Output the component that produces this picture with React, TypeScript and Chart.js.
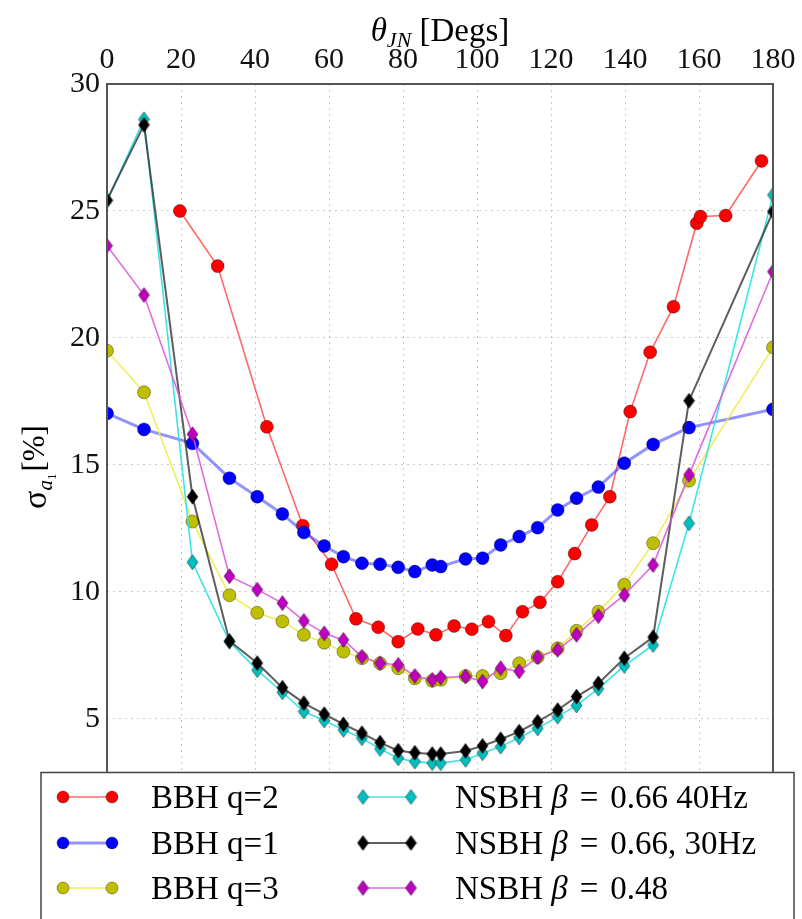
import React, { useEffect, useRef } from 'react';
import { Chart, registerables } from 'chart.js';

Chart.register(...registerables);

// ---------- data ----------
const thetaGrid = [0, 10, 23.1, 33.1, 40.6, 47.4, 53.2, 58.7, 63.9, 68.9, 73.8, 78.7, 83.2, 87.9, 90.2, 96.9, 101.5, 106.4, 111.4, 116.4, 121.8, 126.9, 132.8, 139.8, 147.6, 157.3, 180];
const thetaBBHq2 = [19.7, 29.9, 43.2, 52.9, 60.7, 67.3, 73.3, 78.7, 84, 88.9, 93.8, 98.6, 103.1, 107.8, 112.3, 117, 121.8, 126.4, 131, 135.9, 141.4, 146.8, 153.1, 159.4, 160.4, 167.2, 176.9];

const sigmaBBHq2 = [25.0, 22.83, 16.5, 12.61, 11.09, 8.94, 8.61, 8.04, 8.54, 8.31, 8.66, 8.53, 8.83, 8.28, 9.22, 9.59, 10.4, 11.51, 12.64, 13.75, 17.1, 19.44, 21.23, 24.52, 24.78, 24.82, 26.97];
const sigmaBBHq1 = [17.03, 16.4, 15.85, 14.48, 13.75, 13.07, 12.34, 11.81, 11.39, 11.13, 11.09, 10.97, 10.8, 11.06, 11.0, 11.3, 11.33, 11.85, 12.18, 12.53, 13.23, 13.69, 14.13, 15.07, 15.81, 16.47, 17.19];
const sigmaBBHq3 = [19.5, 17.86, 12.77, 9.87, 9.18, 8.84, 8.31, 8.0, 7.65, 7.39, 7.19, 7.0, 6.6, 6.5, 6.54, 6.69, 6.69, 6.8, 7.19, 7.43, 7.78, 8.47, 9.22, 10.28, 11.92, 14.38, 19.63];
const sigmaNSBH066_40 = [25.4, 28.61, 11.17, 8.04, 6.92, 6.05, 5.29, 4.94, 4.57, 4.24, 3.82, 3.45, 3.32, 3.26, 3.26, 3.39, 3.65, 3.91, 4.27, 4.63, 5.09, 5.53, 6.19, 7.09, 7.91, 12.7, 25.63];
const sigmaNSBH066_30 = [25.43, 28.39, 13.75, 8.07, 7.2, 6.23, 5.62, 5.19, 4.79, 4.44, 4.07, 3.75, 3.67, 3.62, 3.62, 3.74, 3.94, 4.2, 4.5, 4.89, 5.35, 5.88, 6.4, 7.39, 8.22, 17.53, 24.97];
const sigmaNSBH048 = [23.63, 21.69, 16.21, 10.62, 10.09, 9.56, 8.86, 8.37, 8.11, 7.45, 7.19, 7.13, 6.69, 6.54, 6.63, 6.67, 6.47, 7.0, 6.87, 7.43, 7.72, 8.31, 9.05, 9.88, 11.06, 14.61, 22.61];

const xTicks = [0, 20, 40, 60, 80, 100, 120, 140, 160, 180];
const yTicks = [5, 10, 15, 20, 25, 30];

const FONT = '"Liberation Serif", "Times New Roman", serif';

type Series = {
  label: string;
  beta?: string;
  xs: number[];
  ys: number[];
  fill: string;
  line: string;
  lineWidth: number;
  marker: 'circle' | 'diamond';
};

const series: Series[] = [
  { label: 'BBH q=2', xs: thetaBBHq2, ys: sigmaBBHq2, fill: '#ff0000', line: 'rgba(255,40,40,0.7)', lineWidth: 1.6, marker: 'circle' },
  { label: 'BBH q=1', xs: thetaGrid, ys: sigmaBBHq1, fill: '#0000ff', line: 'rgba(40,40,255,0.5)', lineWidth: 3, marker: 'circle' },
  { label: 'BBH q=3', xs: thetaGrid, ys: sigmaBBHq3, fill: '#bfbf00', line: 'rgba(235,235,60,0.85)', lineWidth: 1.6, marker: 'circle' },
  { label: 'NSBH ', beta: '0.66 40Hz', xs: thetaGrid, ys: sigmaNSBH066_40, fill: '#00bfbf', line: 'rgba(40,225,225,0.9)', lineWidth: 1.6, marker: 'diamond' },
  { label: 'NSBH ', beta: '0.66, 30Hz', xs: thetaGrid, ys: sigmaNSBH066_30, fill: '#000000', line: 'rgba(40,40,40,0.75)', lineWidth: 2, marker: 'diamond' },
  { label: 'NSBH ', beta: '0.48', xs: thetaGrid, ys: sigmaNSBH048, fill: '#bf00bf', line: 'rgba(220,80,220,0.85)', lineWidth: 1.6, marker: 'diamond' },
];

function makeDiamond(fill: string, w = 11, h = 15): HTMLCanvasElement {
  const c = document.createElement('canvas');
  c.width = w + 2;
  c.height = h + 2;
  const g = c.getContext('2d')!;
  g.beginPath();
  g.moveTo((w + 2) / 2, 1);
  g.lineTo(w + 1, (h + 2) / 2);
  g.lineTo((w + 2) / 2, h + 1);
  g.lineTo(1, (h + 2) / 2);
  g.closePath();
  g.fillStyle = fill;
  g.fill();
  g.strokeStyle = 'rgba(0,0,0,0.45)';
  g.lineWidth = 1;
  g.stroke();
  return c;
}

const decorPlugin = {
  id: 'decor',
  afterDraw(chart: any) {
    const ctx: CanvasRenderingContext2D = chart.ctx;
    const a = chart.chartArea;
    ctx.save();

    // x title: θ_JN [Degs]
    ctx.fillStyle = '#000';
    ctx.textBaseline = 'alphabetic';
    ctx.textAlign = 'left';
    const big = `italic 33px ${FONT}`;
    const sub = `italic 22px ${FONT}`;
    const rom = `33px ${FONT}`;
    ctx.font = big; const w1 = ctx.measureText('θ').width;
    ctx.font = sub; const w2 = ctx.measureText('JN').width;
    ctx.font = rom; const w3 = ctx.measureText(' [Degs]').width;
    const cx = (a.left + a.right) / 2;
    let x0 = cx - (w1 + w2 + w3) / 2;
    const by = 41;
    ctx.font = big; ctx.fillText('θ', x0, by); x0 += w1;
    ctx.font = sub; ctx.fillText('JN', x0, by + 6); x0 += w2;
    ctx.font = rom; ctx.fillText(' [Degs]', x0, by);

    // y title: σ_{a_1}[%]
    ctx.save();
    ctx.translate(46, 467);
    ctx.rotate(-Math.PI / 2);
    const yBig = `34px ${FONT}`;
    const ySub = `italic 21px ${FONT}`;
    const ySub2 = `13px ${FONT}`;
    const yRom = `31px ${FONT}`;
    ctx.font = yBig; const s1 = ctx.measureText('σ').width;
    ctx.font = ySub; const s2 = ctx.measureText('a').width;
    ctx.font = ySub2; const s3 = ctx.measureText('1').width;
    ctx.font = yRom; const s4 = ctx.measureText('[%]').width;
    let u = -(s1 + s2 + s3 + 2 + s4) / 2;
    ctx.font = yBig; ctx.fillText('σ', u, 0); u += s1;
    ctx.font = ySub; ctx.fillText('a', u, 6); u += s2;
    ctx.font = ySub2; ctx.fillText('1', u, 10); u += s3 + 2;
    ctx.font = yRom; ctx.fillText('[%]', u, -2);
    ctx.restore();

    // solid frame (top, left, right)
    ctx.strokeStyle = '#555';
    ctx.lineWidth = 2;
    ctx.beginPath();
    ctx.moveTo(a.left, a.bottom);
    ctx.lineTo(a.left, a.top);
    ctx.lineTo(a.right, a.top);
    ctx.lineTo(a.right, a.bottom);
    ctx.stroke();

    // legend box
    const lx = 41, ly = 772.5, lw = 753, lh = 200;
    ctx.fillStyle = '#fff';
    ctx.fillRect(lx, ly, lw, lh);
    ctx.strokeStyle = '#444';
    ctx.lineWidth = 1.5;
    ctx.strokeRect(lx, ly, lw, lh);

    const rows = [797, 843, 888];
    const cols = [
      { l0: 63, l1: 112, tx: 151 },
      { l0: 363, l1: 411, tx: 455 },
    ];
    const LF = 33;
    series.forEach((s, i) => {
      const col = cols[Math.floor(i / 3)];
      const ry = rows[i % 3];
      ctx.strokeStyle = s.line;
      ctx.lineWidth = s.lineWidth;
      ctx.beginPath();
      ctx.moveTo(col.l0, ry);
      ctx.lineTo(col.l1, ry);
      ctx.stroke();
      [col.l0, col.l1].forEach((px) => {
        if (s.marker === 'circle') {
          ctx.beginPath();
          ctx.arc(px, ry, 6, 0, Math.PI * 2);
          ctx.fillStyle = s.fill;
          ctx.fill();
          ctx.strokeStyle = 'rgba(0,0,0,0.35)';
          ctx.lineWidth = 1;
          ctx.stroke();
        } else {
          const img = makeDiamond(s.fill);
          ctx.drawImage(img, px - img.width / 2, ry - img.height / 2);
        }
      });
      ctx.fillStyle = '#000';
      ctx.textBaseline = 'alphabetic';
      const tb = ry + 11;
      let tx = col.tx;
      ctx.font = `${LF}px ${FONT}`;
      ctx.fillText(s.label, tx, tb);
      tx += ctx.measureText(s.label).width;
      if (s.beta !== undefined) {
        ctx.font = `italic ${LF}px ${FONT}`;
        ctx.fillText('β', tx, tb);
        tx += ctx.measureText('β').width + 12;
        ctx.font = `${LF}px ${FONT}`;
        ctx.fillText('=', tx, tb);
        tx += ctx.measureText('=').width + 12;
        ctx.fillText(s.beta, tx, tb);
      }
    });
    ctx.restore();
  },
};

export default function App() {
  const ref = useRef<HTMLCanvasElement | null>(null);
  useEffect(() => {
    document.body.style.margin = '0';
    const canvas = ref.current!;
    const datasets = series.map((s, i) => {
      const common: any = {
        label: s.label,
        data: s.xs.map((x, k) => ({ x, y: s.ys[k] })),
        showLine: true,
        borderColor: s.line,
        borderWidth: s.lineWidth,
        backgroundColor: s.fill,
        pointBackgroundColor: s.fill,
        pointBorderColor: 'rgba(0,0,0,0.35)',
        pointBorderWidth: 1,
        tension: 0,
        clip: 0,
        order: 10 - i,
      };
      if (s.marker === 'circle') {
        common.pointStyle = 'circle';
        common.pointRadius = 6.5;
      } else {
        common.pointStyle = makeDiamond(s.fill);
        common.pointRadius = 7;
      }
      return common;
    });
    const chart = new Chart(canvas, {
      type: 'scatter',
      data: { datasets },
      options: {
        responsive: false,
        animation: false,
        devicePixelRatio: 1,
        events: [],
        layout: { padding: { left: 0, right: 29, top: 0, bottom: 147 } },
        plugins: { legend: { display: false }, tooltip: { enabled: false } },
        scales: {
          x: {
            type: 'linear',
            position: 'top',
            min: 0,
            max: 180,
            afterFit: (sc: any) => { sc.height = 84; },
            afterBuildTicks: (sc: any) => { sc.ticks = xTicks.map((v) => ({ value: v })); },
            ticks: {
              font: { family: FONT, size: 30 },
              color: '#111',
              padding: 6,
              maxRotation: 0,
              autoSkip: false,
            },
            grid: {
              color: 'rgba(160,160,160,0.55)',
              lineWidth: 1,
              drawTicks: false,
            },
            border: { display: false, dash: [2, 4] } as any,
          },
          y: {
            type: 'linear',
            min: 2.91,
            max: 30,
            afterFit: (sc: any) => { sc.width = 107; },
            afterBuildTicks: (sc: any) => { sc.ticks = yTicks.map((v) => ({ value: v })); },
            ticks: {
              font: { family: FONT, size: 30 },
              color: '#111',
              padding: 7,
            },
            grid: {
              color: 'rgba(160,160,160,0.55)',
              lineWidth: 1,
              drawTicks: false,
            },
            border: { display: false, dash: [2, 4] } as any,
          },
        },
      },
      plugins: [decorPlugin],
    });
    return () => chart.destroy();
  }, []);
  return (
    <div style={{ width: 802, height: 919, position: 'relative', background: '#fff' }}>
      <canvas ref={ref} width={802} height={919} style={{ display: 'block' }} />
    </div>
  );
}
